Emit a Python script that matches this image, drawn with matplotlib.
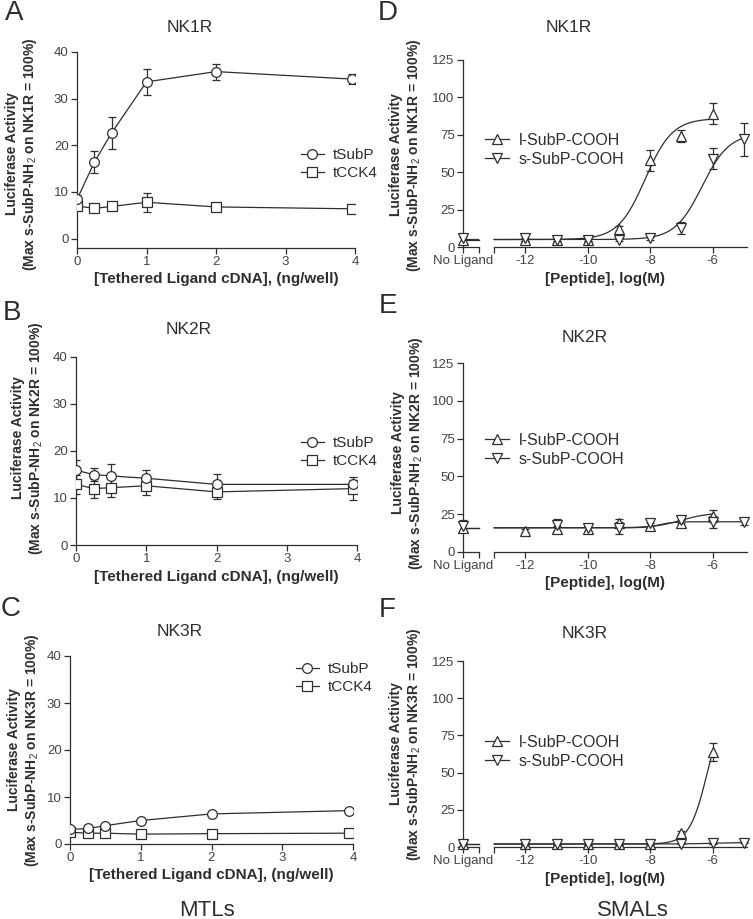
import numpy as np
import matplotlib
matplotlib.use("Agg")
import matplotlib.pyplot as plt
from matplotlib.lines import Line2D

plt.rcParams['font.family'] = ['Liberation Sans', 'DejaVu Sans']
plt.rcParams['mathtext.fontset'] = 'custom'
plt.rcParams['mathtext.rm'] = 'Liberation Sans'
plt.rcParams['mathtext.bf'] = 'Liberation Sans:bold'

INK = '#2e2e2e'

# ---- MTL data (left column) ----
cdna = [0, 0.25, 0.5, 1, 2, 3.95]

nk1_tsubp = [8.4, 16.4, 22.7, 33.6, 35.8, 34.2]
nk1_tsubp_err = [1.0, 2.3, 3.4, 2.8, 1.7, 1.1]
nk1_tcck4 = [7.0, 6.5, 6.9, 7.8, 6.8, 6.4]
nk1_tcck4_err = [0.5, 0.4, 0.5, 2.0, 0.4, 0.4]

nk2_tsubp = [15.9, 15.0, 14.7, 14.2, 12.9, 12.9]
nk2_tsubp_err = [2.1, 1.4, 2.5, 1.8, 2.3, 1.0]
nk2_tcck4 = [12.9, 12.0, 12.2, 12.6, 11.3, 12.0]
nk2_tcck4_err = [2.0, 2.0, 1.9, 2.0, 1.6, 2.4]

nk3_tsubp = [3.1, 3.3, 3.9, 5.0, 6.4, 7.1]
nk3_tsubp_err = [0.3, 0.3, 0.3, 0.3, 0.3, 0.3]
nk3_tcck4 = [2.5, 2.3, 2.3, 2.1, 2.2, 2.3]
nk3_tcck4_err = [0.3, 0.3, 0.3, 0.3, 0.3, 0.3]

# ---- SMAL data (right column); first entry is "No Ligand" ----
NL_X = -14.0
logc_l = [NL_X, -12, -11, -10, -9, -8, -7, -6]
logc_s = [NL_X, -12, -11, -10, -9, -8, -7, -6, -5]

d_l = [5, 5, 5, 5, 12, 58, 74, 89]
d_l_err = [2, 1, 1, 1, 2, 7, 4, 7]
d_s = [6, 6, 5, 5, 5, 6, 13, 59, 72]
d_s_err = [3, 2, 1, 1, 1, 1, 4, 7, 11]

e_logc_s = [NL_X, -11, -10, -9, -8, -7, -6, -5]
e_l = [16, 14, 15, 15, 19, 17, 19, 24]
e_l_err = [3, 1, 2, 2, 3, 2, 2, 4]
e_s = [17, 18, 16, 16, 19, 21, 20, 20]
e_s_err = [4, 4, 2, 4, 3, 2, 4, 2]

f_l = [2, 2, 2, 2, 2, 2, 9.5, 64]
f_l_err = [1, 0.5, 0.5, 0.5, 0.5, 0.5, 1, 6]
f_s = [2, 2, 2, 2, 2, 2, 2.2, 2.5, 3]
f_s_err = [1, 0.5, 0.5, 0.5, 0.5, 0.5, 0.5, 0.5, 0.5]

# fitted curve parameters: bottom, top, logEC50, hill, last x
fit_d_l = (5, 86, -8.16, 1.0, -6)
fit_d_s = (5, 76, -6.34, 1.0, -5)
fit_e_l = (16, 26, -7.0, 1.0, -6)
fit_e_s = (16, 20, -7.7, 2.0, -5)
fit_f_l = (2, 100, -6.16, 1.5, -6)
fit_f_s = (2, 3, -6.0, 1.0, -5)

W, H = 753, 919
fig = plt.figure(figsize=(W / 100, H / 100), dpi=100)


def rect(l, t, r, b):
    return [l / W, 1 - b / H, (r - l) / W, (b - t) / H]


def fx(x):
    return x / W


def fy(y):
    return 1 - y / H


def style(ax):
    for s in ['top', 'right']:
        ax.spines[s].set_visible(False)
    for s in ['left', 'bottom']:
        ax.spines[s].set_color(INK)
        ax.spines[s].set_linewidth(0.9)
    ax.tick_params(direction='out', length=4, width=0.9, colors=INK,
                   labelsize=9.5, pad=2)
    for lab in ax.get_xticklabels() + ax.get_yticklabels():
        lab.set_color('#444444')


def ylab(x, y, rec):
    fig.text(fx(x), fy(y), 'Luciferase Activity\n(Max s-SubP-NH$_2$ on %s = 100%%)' % rec,
             rotation=90, ha='center', va='center', fontsize=10, fontweight='bold',
             color=INK, multialignment='center', linespacing=1.1)


mk = dict(mfc='white', mec=INK, mew=0.9, ms=7)


def mtl_panel(r, ylim, a, ae, b, be, leg_xy):
    ax = fig.add_axes(r)
    for vals, err, m in [(b, be, 's'), (a, ae, 'o')]:
        ax.errorbar(cdna, vals, yerr=err, fmt='none', ecolor=INK, elinewidth=0.9,
                    capsize=3, capthick=0.9, zorder=2)
        ax.plot(cdna, vals, '-', color=INK, lw=0.9, marker=m, zorder=3, **mk)
    ax.set_xlim(0, 4)
    ax.set_ylim(*ylim)
    ax.set_xticks([0, 1, 2, 3, 4])
    ax.set_yticks([0, 10, 20, 30, 40])
    style(ax)
    h = [Line2D([], [], color=INK, lw=0.9, marker='o', **mk),
         Line2D([], [], color=INK, lw=0.9, marker='s', **mk)]
    ax.legend(h, ['tSubP', 'tCCK4'], loc='center left', frameon=False,
              bbox_to_anchor=(fx(leg_xy[0]), fy(leg_xy[1])), bbox_transform=fig.transFigure,
              fontsize=11, handlelength=1.5, handletextpad=0.6, labelspacing=0.25,
              labelcolor=INK, borderaxespad=0, borderpad=0)
    ax.set_xlabel('[Tethered Ligand cDNA], (ng/well)', fontsize=11, fontweight='bold',
                  color=INK, labelpad=3)
    return ax


def logistic(p, xs):
    bot, top, ec, hill, _ = p
    return bot + (top - bot) / (1 + 10 ** ((ec - xs) * hill))


def smal_panel(r, xl, yl, el, xs_, ys_, es_, pl, ps, leg_xy):
    ax = fig.add_axes(r)
    for p in [pl, ps]:
        x1 = np.linspace(NL_X, -13.5, 5)
        x2 = np.linspace(-13, p[4], 300)
        ax.plot(x1, logistic(p, x1), color=INK, lw=0.9, zorder=2)
        ax.plot(x2, logistic(p, x2), color=INK, lw=0.9, zorder=2)
    for xv, vals, err, m in [(xl, yl, el, '^'), (xs_, ys_, es_, 'v')]:
        ax.errorbar(xv, vals, yerr=err, fmt='none', ecolor=INK, elinewidth=0.9,
                    capsize=3, capthick=0.9, zorder=3, clip_on=False)
        ax.plot(xv, vals, ls='none', marker=m, zorder=4, clip_on=False, **mk)
    ax.set_xlim(NL_X, -4.9)
    ax.set_ylim(0, 125)
    ax.set_yticks([0, 25, 50, 75, 100, 125])
    ax.set_xticks([NL_X, -13.5, -13, -12, -10, -8, -6])
    ax.set_xticklabels(['No Ligand', '', '', '-12', '-10', '-8', '-6'])
    style(ax)
    ax.spines['bottom'].set_visible(False)
    tr = ax.get_xaxis_transform()
    ax.plot([NL_X, -13.5], [0, 0], color=INK, lw=0.9, transform=tr, clip_on=False)
    ax.plot([-13, -4.9], [0, 0], color=INK, lw=0.9, transform=tr, clip_on=False)
    h = [Line2D([], [], color=INK, lw=0.9, marker='^', **mk),
         Line2D([], [], color=INK, lw=0.9, marker='v', **mk)]
    ax.legend(h, ['l-SubP-COOH', 's-SubP-COOH'], loc='center left', frameon=False,
              bbox_to_anchor=(fx(leg_xy[0]), fy(leg_xy[1])), bbox_transform=fig.transFigure,
              fontsize=11.5, handlelength=1.5, handletextpad=0.6, labelspacing=0.25,
              labelcolor=INK, borderaxespad=0, borderpad=0)
    ax.set_xlabel('[Peptide], log(M)', fontsize=11, fontweight='bold', color=INK, labelpad=3)
    return ax


mtl_panel(rect(77, 52, 355, 248), (-2, 40), nk1_tsubp, nk1_tsubp_err,
          nk1_tcck4, nk1_tcck4_err, (301, 164))
mtl_panel(rect(76, 357, 357, 545), (0, 40), nk2_tsubp, nk2_tsubp_err,
          nk2_tcck4, nk2_tcck4_err, (301, 452))
mtl_panel(rect(70, 656, 353, 844), (0, 40), nk3_tsubp, nk3_tsubp_err,
          nk3_tcck4, nk3_tcck4_err, (296, 678))

smal_panel(rect(463, 60, 747, 247), logc_l, d_l, d_l_err, logc_s, d_s, d_s_err,
           fit_d_l, fit_d_s, (485, 150))
smal_panel(rect(463, 363, 747, 552), logc_l, e_l, e_l_err, e_logc_s, e_s, e_s_err,
           fit_e_l, fit_e_s, (485, 450))
smal_panel(rect(463, 661, 747, 847), logc_l, f_l, f_l_err, logc_s, f_s, f_s_err,
           fit_f_l, fit_f_s, (485, 752))

for x, y, rec in [(22, 154, 'NK1R'), (28, 438, 'NK2R'), (24, 750, 'NK3R'),
                  (406, 155, 'NK1R'), (408, 453, 'NK2R'), (406, 744, 'NK3R')]:
    ylab(x, y, rec)

for x, y, t in [(190, 28, 'NK1R'), (189, 330, 'NK2R'), (180, 632, 'NK3R'),
                (569, 28, 'NK1R'), (585, 337, 'NK2R'), (585, 633, 'NK3R')]:
    fig.text(fx(x), fy(y), t, ha='center', va='center', fontsize=12.5, color=INK)

for x, y, t in [(14, 13, 'A'), (12, 313, 'B'), (11, 609, 'C'),
                (388, 13, 'D'), (388, 306, 'E'), (387, 610, 'F')]:
    fig.text(fx(x), fy(y), t, ha='center', va='center', fontsize=20, color=INK)

fig.text(fx(207), fy(910), 'MTLs', ha='center', va='center', fontsize=16, color=INK)
fig.text(fx(633), fy(910), 'SMALs', ha='center', va='center', fontsize=16, color=INK)

fig.savefig('out.png', dpi=100)
